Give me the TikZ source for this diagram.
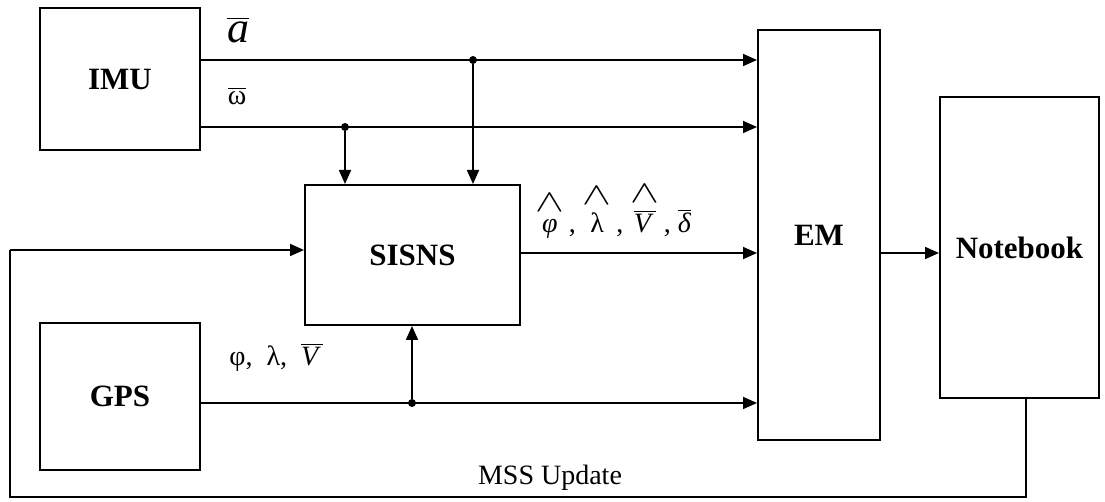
\documentclass[tikz,border=0pt]{standalone}
\usepackage{fontspec}
\usepackage{graphicx}
\setmainfont{Liberation Serif}
\usetikzlibrary{arrows.meta}
\newcommand{\ovl}[1]{$\overline{\hbox{#1}}$}
\newcommand{\hatv}[1]{\shortstack{\scalebox{1.5}[1.1]{$\wedge$}\\[1pt]#1}}
\begin{document}
\begin{tikzpicture}[x=0.5pt,y=-0.5pt,
  box/.style={draw,line width=1pt,rectangle,inner sep=0pt,font=\bfseries\fontsize{15.5}{17}\selectfont},
  arr/.style={line width=0.9pt,-{Triangle[length=7pt,width=6pt]}},
  ln/.style={line width=0.9pt},
  dot/.style={circle,fill,inner sep=0pt,minimum size=4pt},
  lbl/.style={inner sep=0pt,font=\fontsize{14}{16}\selectfont}]
\useasboundingbox (0,0) rectangle (1105,502);
\node[box,minimum width=80pt,minimum height=71pt] (imu) at (120,79) {IMU};
\node[box,minimum width=107.5pt,minimum height=70pt] (sisns) at (412.5,255) {SISNS};
\node[box,minimum width=80pt,minimum height=73.5pt] (gps) at (120,396.5) {GPS};
\node[box,minimum width=61pt,minimum height=205pt] (em) at (819,235) {EM};
\node[box,minimum width=79.5pt,minimum height=150.5pt] (nb) at (1019.5,247.5) {Notebook};
% junctions
\node[dot] (j1) at (473,60) {};
\node[dot] (j2) at (345,127) {};
\node[dot] (j3) at (412,403) {};
\coordinate (fbR) at (1026,497);
\coordinate (fbL) at (10,497);
\coordinate (fbT) at (10,250);
% IMU lines
\draw[arr] (imu.east |- j1) -- (em.west |- j1);
\draw[arr] (imu.east |- j2) -- (em.west |- j2);
\draw[arr] (j1) -- (sisns.north -| j1);
\draw[arr] (j2) -- (sisns.north -| j2);
% GPS
\draw[arr] (gps.east |- j3) -- (em.west |- j3);
\draw[arr] (j3) -- (sisns.south -| j3);
% SISNS to EM
\draw[arr] (sisns.east |- 0,253) -- (em.west |- 0,253);
% EM to Notebook
\draw[arr] (em.east |- 0,253) -- (nb.west |- 0,253);
% feedback
\draw[ln] (nb.south -| fbR) -- (fbR) -- (fbL) -- (fbT);
\draw[arr] (fbT) -- (sisns.west |- fbT);
% labels
\node[inner sep=0pt] (la) at (238,30) {\fontsize{22}{24}\selectfont\ovl{\itshape a}};
\node[lbl] (lw) at (237,96) {\ovl{ω}};
\node[lbl,anchor=south west] (ls) at (535,239) {\hatv{\itshape φ}\,,\ \hatv{λ}\,,\ \hatv{\ovl{\itshape V\,}}\,,\ \ovl{\itshape δ}};
\node[lbl,anchor=south west] (lg) at (229,372) {φ,\ \ λ,\ \ \ovl{\itshape V\,}};
\node[lbl] (mss) at (550,478) {MSS Update};
\end{tikzpicture}
\end{document}
